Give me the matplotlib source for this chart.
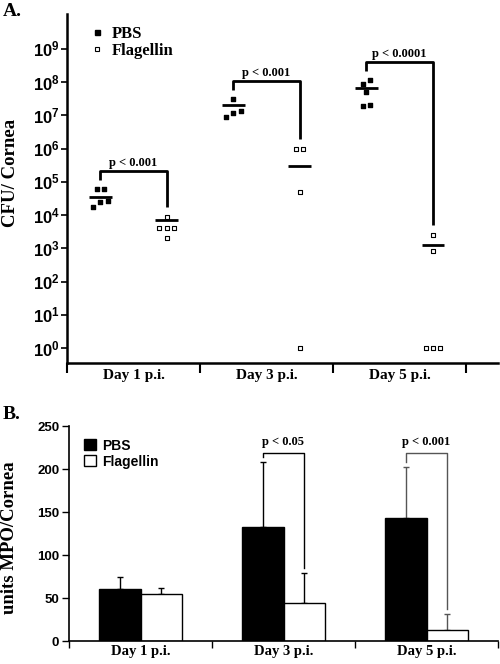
import numpy as np
import matplotlib
matplotlib.use("Agg")
import matplotlib.pyplot as plt
from matplotlib.lines import Line2D
from matplotlib.patches import Patch

plt.rcParams['mathtext.fontset'] = 'custom'
plt.rcParams['mathtext.rm'] = 'Liberation Sans:bold'
plt.rcParams['mathtext.bf'] = 'Liberation Sans:bold'

SERIF = 'Liberation Serif'
SANS = 'Liberation Sans'

# Panel A: bacterial counts (CFU / cornea), individual eyes
days = ['Day 1 p.i.', 'Day 3 p.i.', 'Day 5 p.i.']
pbs_cfu = [[6.3e4, 6.3e4, 2.6e4, 2.4e4, 1.8e4],
           [3.2e7, 1.4e7, 1.15e7, 8.7e6],
           [1.2e8, 9.1e7, 5.2e7, 2.0e7, 1.9e7]]
flag_cfu = [[8.5e3, 4.0e3, 4.0e3, 4.0e3, 2.1e3],
            [1.0e6, 1.0e6, 4.8e4, 1],
            [2.6e3, 8.1e2, 1, 1, 1]]
pbs_mean = [3.6e4, 2.0e7, 6.9e7]
flag_mean = [6.9e3, 3.0e5, 1.3e3]
pvals_a = ['p < 0.001', 'p < 0.001', 'p < 0.0001']

# Panel B: MPO units / cornea
pbs_mpo = [60, 133, 143]
pbs_sd = [15, 75, 59]
flag_mpo = [55, 44, 13]
flag_sd = [7, 35, 18]
pvals_b = {1: 'p < 0.05', 2: 'p < 0.001'}


def swarm_x(center, vals, d=0.055, thr=0.15):
    # points closer than thr decades share a row and get spread sideways
    lv = np.log10(vals)
    order = np.argsort(-lv)
    xs = np.zeros(len(vals))
    rows, cur = [], [order[0]]
    for a, b in zip(order[:-1], order[1:]):
        if lv[a] - lv[b] < thr:
            cur.append(b)
        else:
            rows.append(cur)
            cur = [b]
    rows.append(cur)
    for r in rows:
        n = len(r)
        for k, idx in enumerate(sorted(r, key=lambda i: lv[i])):
            xs[idx] = center + (k - (n - 1) / 2) * d
    return xs


fig = plt.figure(figsize=(5, 6.64), dpi=100)

# ---------------- A ----------------
ax = fig.add_axes([0.134, 0.4533, 0.862, 0.5256])
off = 0.25
for i in range(3):
    xp = swarm_x(i - off, pbs_cfu[i])
    xf = swarm_x(i + off, flag_cfu[i])
    ax.scatter(xp, pbs_cfu[i], marker='s', s=12, color='black', zorder=3)
    ax.scatter(xf, flag_cfu[i], marker='s', s=10, facecolor='white',
               edgecolor='black', linewidth=0.8, zorder=3)
    ax.hlines(pbs_mean[i], i - off - 0.085, i - off + 0.085, color='black', lw=2)
    ax.hlines(flag_mean[i], i + off - 0.085, i + off + 0.085, color='black', lw=2)
    # significance bracket (log space)
    pm = np.log10(max(pbs_cfu[i]))
    fm = np.log10(max(flag_cfu[i]))
    top = pm + 0.52
    ax.plot([i - off, i - off, i + off, i + off],
            [10 ** (pm + 0.25), 10 ** top, 10 ** top, 10 ** (fm + 0.3)],
            color='black', lw=2, solid_capstyle='butt')
    ax.text(i, 10 ** (top + 0.25), pvals_a[i], ha='center', va='center',
            family=SERIF, weight='bold', fontsize=9)

ax.set_yscale('log')
ax.set_ylim(10 ** -0.45, 10 ** 10.05)
ax.set_yticks([10.0 ** k for k in range(10)])
ax.set_yticklabels([r'$\mathbf{10^{%d}}$' % k for k in range(10)])
ax.yaxis.set_minor_locator(matplotlib.ticker.NullLocator())
ax.set_xlim(-0.5, 2.74)
ax.set_xticks([-0.5, 0.5, 1.5, 2.5])
ax.set_xticklabels([])
ax.set_xticks([0, 1, 2], minor=True)
ax.set_xticklabels(days, minor=True, family=SERIF, weight='bold', fontsize=11)
ax.tick_params(axis='x', which='major', direction='out', length=7, width=1.5)
ax.tick_params(axis='x', which='minor', length=0, pad=4)
ax.tick_params(axis='y', direction='out', length=4, width=1.2, labelsize=12, pad=1)
for s in ['top', 'right']:
    ax.spines[s].set_visible(False)
for s in ['left', 'bottom']:
    ax.spines[s].set_linewidth(1.8)

hand_a = [Line2D([], [], ls='', marker='s', ms=3.6, color='black'),
          Line2D([], [], ls='', marker='s', ms=3.2, mfc='white', mec='black', mew=0.8)]
ax.legend(hand_a, ['PBS', 'Flagellin'], loc='upper left', bbox_to_anchor=(0.019, 1.01),
          frameon=False, handlelength=0.8, handletextpad=0.5, labelspacing=0.1,
          prop={'family': SERIF, 'weight': 'bold', 'size': 12})

fig.text(0.022, 0.74, 'CFU/ Cornea', rotation=90, ha='center', va='center',
         family=SERIF, weight='bold', fontsize=13.5)
fig.text(0.005, 0.995, 'A.', ha='left', va='top', family=SERIF, weight='bold', fontsize=14)

# ---------------- B ----------------
bx = fig.add_axes([0.138, 0.0346, 0.858, 0.3238])
x = np.arange(3)
w = 0.29
err_col = ['black', 'black', '#555555']
bx.bar(x - w / 2, pbs_mpo, w, color='black', edgecolor='black', lw=1, zorder=2)
bx.bar(x + w / 2, flag_mpo, w, color='white', edgecolor='black', lw=1, zorder=2)
for i in range(3):
    bx.errorbar(x[i] - w / 2, pbs_mpo[i], yerr=[[0], [pbs_sd[i]]], fmt='none',
                ecolor=err_col[i], elinewidth=1, capsize=2.5, capthick=1, zorder=1)
    bx.errorbar(x[i] + w / 2, flag_mpo[i], yerr=[[0], [flag_sd[i]]], fmt='none',
                ecolor=err_col[i], elinewidth=1, capsize=2.5, capthick=1, zorder=1)

top_b = max(p + s for p, s in zip(pbs_mpo, pbs_sd)) + 11
for i, lab in pvals_b.items():
    bx.plot([x[i] - w / 2, x[i] - w / 2, x[i] + w / 2, x[i] + w / 2],
            [pbs_mpo[i] + pbs_sd[i] + 6, top_b, top_b, flag_mpo[i] + flag_sd[i] + 6],
            color=err_col[i], lw=1)
    bx.text(x[i], top_b + 12, lab, ha='center', va='center',
            family=SERIF, weight='bold', fontsize=9)

bx.set_ylim(0, 250)
bx.set_yticks(range(0, 251, 50))
for t in bx.get_yticklabels():
    t.set_family(SANS)
    t.set_weight('bold')
bx.set_xlim(-0.5, 2.5)
bx.set_xticks([-0.5, 0.5, 1.5, 2.5])
bx.set_xticklabels([])
bx.set_xticks(x, minor=True)
bx.set_xticklabels(days, minor=True, family=SERIF, weight='bold', fontsize=10.5)
bx.tick_params(axis='x', which='major', direction='out', length=5, width=1)
bx.tick_params(axis='x', which='minor', length=0, pad=3)
bx.tick_params(axis='y', direction='out', length=5, width=1, labelsize=9.5, pad=2)
for s in ['top', 'right']:
    bx.spines[s].set_visible(False)
for s in ['left', 'bottom']:
    bx.spines[s].set_linewidth(1.2)

hand_b = [Patch(facecolor='black', edgecolor='black'),
          Patch(facecolor='white', edgecolor='black')]
bx.legend(hand_b, ['PBS', 'Flagellin'], loc='upper left', bbox_to_anchor=(0.005, 1.0),
          frameon=False, handlelength=0.9, handleheight=0.8, handletextpad=0.4,
          labelspacing=0.15, prop={'family': SANS, 'weight': 'bold', 'size': 10})

fig.text(0.02, 0.19, 'units MPO/Cornea', rotation=90, ha='center', va='center',
         family=SERIF, weight='bold', fontsize=13.5)
fig.text(0.005, 0.389, 'B.', ha='left', va='top', family=SERIF, weight='bold', fontsize=14)

fig.savefig('out.png', dpi=100)
